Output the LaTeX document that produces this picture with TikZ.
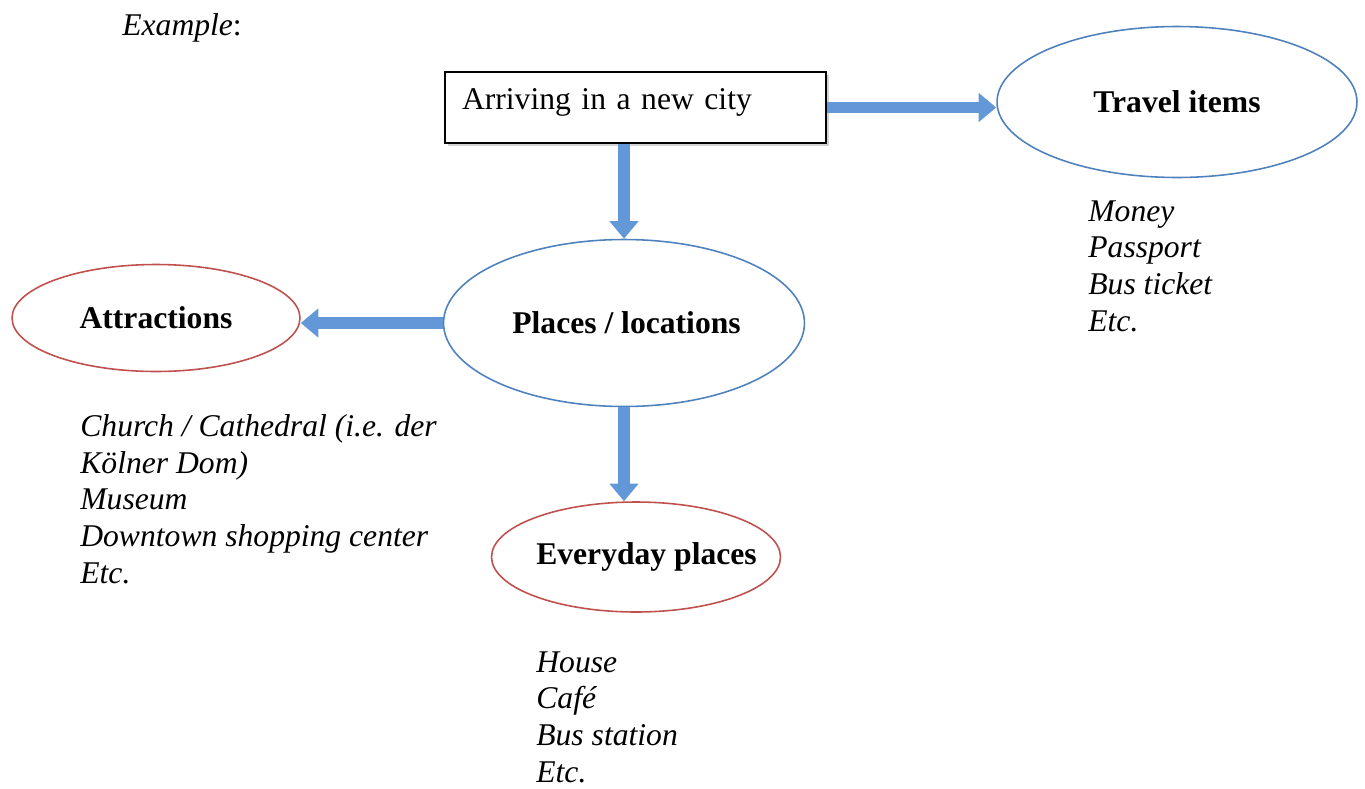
\documentclass[tikz,border=0pt]{standalone}
\usepackage{fontspec}
\setmainfont{Liberation Serif}
\usetikzlibrary{arrows.meta, positioning, shapes.geometric, shadows}
\definecolor{EllBlue}{RGB}{79,129,189}
\definecolor{EllRed}{RGB}{192,80,77}
\definecolor{ArrowBlue}{RGB}{98,152,216}
\newcommand{\ctext}[1]{\makebox[0pt]{#1}}

\begin{document}
\begin{tikzpicture}[x=0.02cm, y=-0.02cm,
        txt/.style={font=\fontsize{18}{20.8}\selectfont},
        list/.style={font=\fontsize{18}{20.8}\selectfont\itshape,align=left,
                     anchor=base west,inner sep=0pt},
        topic/.style={ellipse,draw=EllBlue,line width=0.9pt,inner sep=0pt,
                      font=\fontsize{18}{20.8}\selectfont\bfseries},
        sub/.style={topic,draw=EllRed},
        flow/.style={draw=ArrowBlue,line width=6.8pt,
                     -{Triangle[width=16pt,length=10pt]}}]
        \useasboundingbox (0,0) rectangle (1365,788);
        \node[txt,anchor=base west,inner sep=0pt] (ex) at (122,35) {\textit{Example}:};
        \node[txt,draw,line width=0.9pt,fill=white,
              drop shadow={opacity=0.35,shadow xshift=1.5pt,shadow yshift=-1.5pt},
              minimum width=7.62cm,minimum height=1.42cm,text width=6.94cm,
              inner xsep=0.34cm,inner ysep=0pt,text depth=10pt,align=left]
              (arrive) at (635.5,107.5) {Arriving in a new city};
        \node[topic,minimum width=7.2cm,minimum height=3.02cm]
              (travel) at (1177,102) {\ctext{Travel items}};
        \node[topic,minimum width=7.22cm,minimum height=3.34cm]
              (places) at (624,323) {\ctext{\hspace*{0.1cm}Places / locations}};
        \node[sub,minimum width=5.76cm,minimum height=2.14cm]
              (attr) at (156,318) {\ctext{Attractions}};
        \node[sub,minimum width=5.78cm,minimum height=2.2cm]
              (everyday) at (636,557) {\ctext{\hspace*{0.42cm}Everyday places}};

        % example words under each topic (anchored on the last line)
        \node[list] (travellist) at (1088,331)
          {Money\\Passport\\Bus ticket\\Etc.};
        \node[list] (attrlist) at (80,583)
          {Church / Cathedral (i.e. der\\Kölner Dom)\\Museum\\Downtown shopping center\\Etc.};
        \node[list] (everydaylist) at (536,782)
          {House\\Café\\Bus station\\Etc.};

        % block arrows
        \draw[flow] (arrive.east) -- (arrive.east -| travel.west);
        \draw[flow] (places.north |- arrive.south) -- (places.north);
        \draw[flow] (places.west) -- (places.west -| attr.east);
        \draw[flow] (places.south) -- (places.south |- everyday.north);
      \end{tikzpicture}
\end{document}
